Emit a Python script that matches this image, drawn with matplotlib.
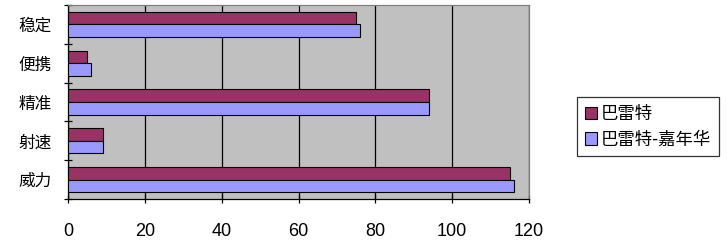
import numpy as np
import matplotlib.pyplot as plt

plt.rcParams['font.family'] = ['Noto Sans CJK SC', 'DejaVu Sans']

categories = ['威力', '射速', '精准', '便携', '稳定']
barrett = [115, 9, 94, 5, 75]
barrett_carnival = [116, 9, 94, 6, 76]
series_names = ['巴雷特', '巴雷特-嘉年华']
xticks = [0, 20, 40, 60, 80, 100, 120]

fig = plt.figure(figsize=(7.27, 2.5), dpi=100)
ax = fig.add_axes([68 / 727, 51 / 250, 461 / 727, 194 / 250])
ax.set_facecolor('#C0C0C0')

y = np.arange(len(categories))
h = 0.325
ax.barh(y + h / 2, barrett, height=h, color='#993366', edgecolor='black',
        linewidth=0.8, label=series_names[0], zorder=3)
ax.barh(y - h / 2, barrett_carnival, height=h, color='#9999FF', edgecolor='black',
        linewidth=0.8, label=series_names[1], zorder=3)

ax.set_xlim(0, 120)
ax.set_ylim(-0.5, len(categories) - 0.5)
ax.set_xticks(xticks)
ax.set_xticklabels([str(t) for t in xticks], family=['Liberation Sans'], fontsize=13)
ax.xaxis.grid(True, color='black', linewidth=0.9, zorder=1)

ax.set_yticks(y)
ax.set_yticklabels(categories, fontsize=12)
ax.set_yticks(np.arange(len(categories) + 1) - 0.5, minor=True)
ax.tick_params(axis='y', which='major', length=0, pad=12)
ax.tick_params(axis='y', which='minor', length=6, direction='inout', width=0.9)
ax.tick_params(axis='x', length=6, direction='inout', width=0.9, pad=14)

for side in ['top', 'right']:
    ax.spines[side].set_color('#808080')
    ax.spines[side].set_linewidth(0.9)
ax.spines['left'].set_linewidth(0.9)
ax.spines['bottom'].set_linewidth(0.9)

leg = fig.legend(loc='upper left', bbox_to_anchor=(577 / 727, 1 - 97 / 250),
                 fontsize=12.5, frameon=True, fancybox=False, edgecolor='black',
                 handlelength=0.7, handleheight=0.7, handletextpad=0.2,
                 borderpad=0.45, labelspacing=0.45, borderaxespad=0)
leg.get_frame().set_linewidth(0.9)

fig.savefig('out.png', dpi=100)
